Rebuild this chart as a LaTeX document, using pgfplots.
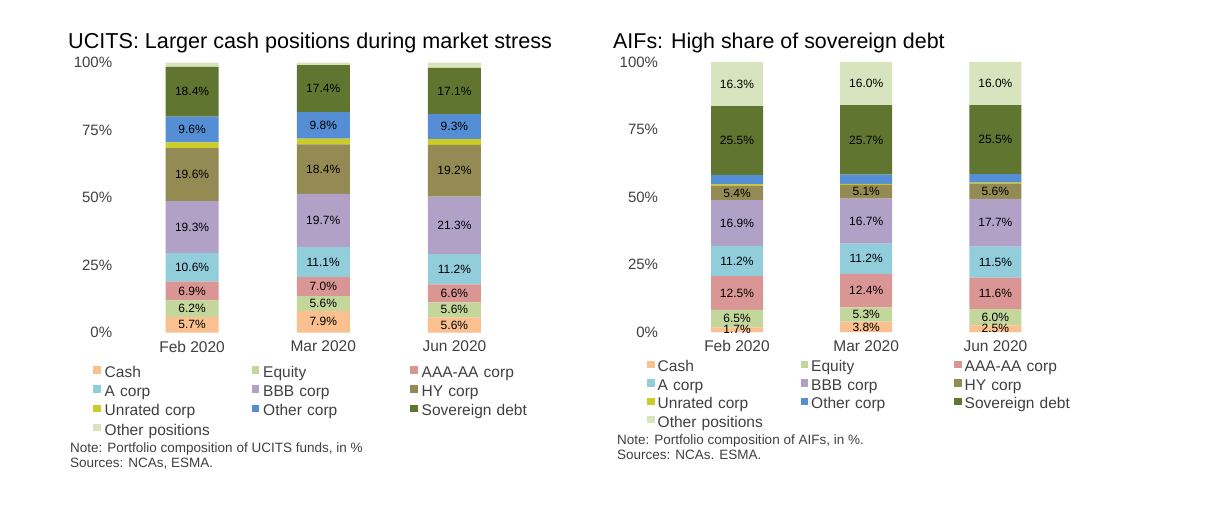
\documentclass[border=0pt]{standalone}
\usepackage{fontspec}
\setmainfont{Liberation Sans}
\usepackage{pgfplots}
\usepackage{pgfplotstable}
\pgfplotsset{compat=1.18}

\definecolor{cCash}{RGB}{250,192,143}
\definecolor{cEquity}{RGB}{195,214,155}
\definecolor{cAAA}{RGB}{217,150,148}
\definecolor{cA}{RGB}{146,205,220}
\definecolor{cBBB}{RGB}{178,161,199}
\definecolor{cHY}{RGB}{148,138,84}
\definecolor{cUnr}{RGB}{204,204,40}
\definecolor{cOC}{RGB}{85,142,213}
\definecolor{cSov}{RGB}{95,117,48}
\definecolor{cOP}{RGB}{215,228,189}
\definecolor{txt}{RGB}{64,64,64}

\pgfplotstableread{
x cash equity aaa acorp bbb hy unrated othercorp sov otherpos
0 5.7 6.2 6.9 10.6 19.3 19.6 2.1 9.6 18.4 1.6
1 7.9 5.6 7.0 11.1 19.7 18.4 2.1 9.8 17.4 1.0
2 5.6 5.6 6.6 11.2 21.3 19.2 2.1 9.3 17.1 2.0
}\ucits

\pgfplotstableread{
x cash equity aaa acorp bbb hy unrated othercorp sov otherpos
0 1.7 6.5 12.5 11.2 16.9 5.4 0.6 3.4 25.5 16.3
1 3.8 5.3 12.4 11.2 16.7 5.1 0.4 3.4 25.7 16.0
2 2.5 6.0 11.6 11.5 17.7 5.6 0.4 3.2 25.5 16.0
}\aifs

\pgfplotsset{
  /pgf/number format/assume math mode=true,
  lbl/.style={
    nodes near coords={\pgfmathprintnumber[fixed,fixed zerofill,precision=1]{\pgfplotspointmeta}\%},
    every node near coord/.append style={
      anchor=center, inner sep=0pt, text=black, font=\fontsize{12}{14}\selectfont,
    },
  },
  base/.style={
    scale only axis, height=270pt,
    ybar stacked,
    xmin=-0.5, xmax=2.5, ymin=0, ymax=100,
    axis line style={draw=none}, major tick length=0pt,
    xtick={0,1,2}, xticklabels={Feb 2020,Mar 2020,Jun 2020},
    ytick={0,25,50,75,100}, yticklabels={0\%,25\%,50\%,75\%,100\%},
    xticklabel style={font=\fontsize{15.5}{18}\selectfont, text=txt, yshift=-5pt},
    yticklabel style={font=\fontsize{15}{18}\selectfont, text=txt, xshift=-10.8pt},
    clip=false,
    legend columns=3,
    legend cell align=left,
    legend image code/.code={\fill[##1] (0pt,0pt) rectangle (7.5pt,7.5pt);},
  },
}

\begin{document}
\begin{tikzpicture}
\path[use as bounding box, fill=white] (0,0) rectangle (1218pt,-505pt);

\node[anchor=base west, inner sep=0pt, font=\fontsize{21.6}{24}\selectfont] at (68pt,-48.3pt) {UCITS: Larger cash positions during market stress};
\node[anchor=base west, inner sep=0pt, font=\fontsize{21.4}{24}\selectfont] at (613pt,-48.3pt) {AIFs: High share of sovereign debt};

\begin{axis}[base,
  at={(126.5pt,-332.5pt)}, anchor=south west,
  width=393.5pt, bar width=53pt,
  legend style={at={(-0.0851,-0.1241)}, anchor=north west, draw=none, fill=none, inner sep=0pt,
    font=\fontsize{15.5}{17}\selectfont, text=txt, row sep=4.5pt,
    nodes={text width=147pt, align=left, inner xsep=0pt, inner ysep=0pt, text height=11pt, text depth=3.5pt},
    /tikz/every odd column/.append style={column sep=4pt}},
]
\addplot[fill=cCash, draw=none, lbl] table[x=x, y=cash, meta=cash] {\ucits};
\addplot[fill=cEquity, draw=none, lbl] table[x=x, y=equity, meta=equity] {\ucits};
\addplot[fill=cAAA, draw=none, lbl] table[x=x, y=aaa, meta=aaa] {\ucits};
\addplot[fill=cA, draw=none, lbl] table[x=x, y=acorp, meta=acorp] {\ucits};
\addplot[fill=cBBB, draw=none, lbl] table[x=x, y=bbb, meta=bbb] {\ucits};
\addplot[fill=cHY, draw=none, lbl] table[x=x, y=hy, meta=hy] {\ucits};
\addplot[fill=cUnr, draw=none] table[x=x, y=unrated] {\ucits};
\addplot[fill=cOC, draw=none, lbl] table[x=x, y=othercorp, meta=othercorp] {\ucits};
\addplot[fill=cSov, draw=none, lbl] table[x=x, y=sov, meta=sov] {\ucits};
\addplot[fill=cOP, draw=none] table[x=x, y=otherpos] {\ucits};
\legend{Cash,Equity,AAA-AA corp,A corp,BBB corp,HY corp,Unrated corp,Other corp,Sovereign debt,Other positions}
\end{axis}

\begin{axis}[base,
  at={(672.4pt,-332pt)}, anchor=south west,
  width=387.6pt, bar width=52pt,
  legend style={at={(-0.0655,-0.1052)}, anchor=north west, draw=none, fill=none, inner sep=0pt,
    font=\fontsize{15.5}{17}\selectfont, text=txt, row sep=3.7pt,
    nodes={text width=143pt, align=left, inner xsep=0pt, inner ysep=0pt, text height=11pt, text depth=3.5pt},
    /tikz/every odd column/.append style={column sep=3pt}},
]
\addplot[fill=cCash, draw=none, lbl] table[x=x, y=cash, meta=cash] {\aifs};
\addplot[fill=cEquity, draw=none, lbl] table[x=x, y=equity, meta=equity] {\aifs};
\addplot[fill=cAAA, draw=none, lbl] table[x=x, y=aaa, meta=aaa] {\aifs};
\addplot[fill=cA, draw=none, lbl] table[x=x, y=acorp, meta=acorp] {\aifs};
\addplot[fill=cBBB, draw=none, lbl] table[x=x, y=bbb, meta=bbb] {\aifs};
\addplot[fill=cHY, draw=none, lbl] table[x=x, y=hy, meta=hy] {\aifs};
\addplot[fill=cUnr, draw=none] table[x=x, y=unrated] {\aifs};
\addplot[fill=cOC, draw=none] table[x=x, y=othercorp] {\aifs};
\addplot[fill=cSov, draw=none, lbl] table[x=x, y=sov, meta=sov] {\aifs};
\addplot[fill=cOP, draw=none, lbl] table[x=x, y=otherpos, meta=otherpos] {\aifs};
\legend{Cash,Equity,AAA-AA corp,A corp,BBB corp,HY corp,Unrated corp,Other corp,Sovereign debt,Other positions}
\end{axis}

\node[anchor=base west, inner sep=0pt, font=\fontsize{13.5}{15}\selectfont, text=txt] at (70pt,-452.5pt) {Note: Portfolio composition of UCITS funds, in \%};
\node[anchor=base west, inner sep=0pt, font=\fontsize{13.5}{15}\selectfont, text=txt] at (70pt,-467.5pt) {Sources: NCAs, ESMA.};
\node[anchor=base west, inner sep=0pt, font=\fontsize{13.5}{15}\selectfont, text=txt] at (617pt,-444.5pt) {Note: Portfolio composition of AIFs, in \%.};
\node[anchor=base west, inner sep=0pt, font=\fontsize{13.5}{15}\selectfont, text=txt] at (617pt,-459.5pt) {Sources: NCAs. ESMA.};
\end{tikzpicture}
\end{document}
